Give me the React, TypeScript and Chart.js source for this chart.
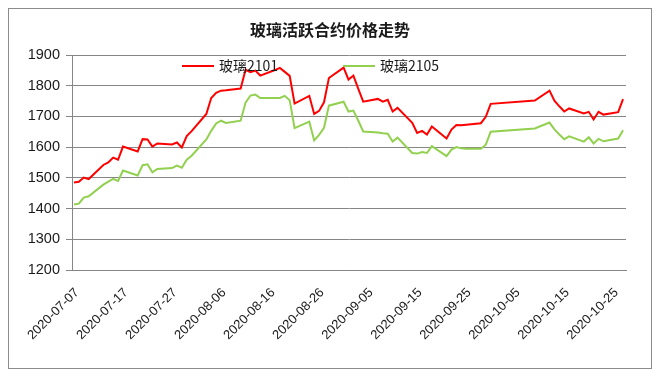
import React, { useEffect, useRef } from "react";
import { Chart, registerables } from "chart.js";

Chart.register(...registerables);

const TITLE = "玻璃活跃合约价格走势";
const SERIES_NAMES = ["玻璃2101", "玻璃2105"];
const SERIES_COLORS = ["#FF0000", "#92D050"];

const dates = [
  "2020-07-07", "2020-07-08", "2020-07-09", "2020-07-10",
  "2020-07-13", "2020-07-14", "2020-07-15", "2020-07-16", "2020-07-17",
  "2020-07-20", "2020-07-21", "2020-07-22", "2020-07-23", "2020-07-24",
  "2020-07-27", "2020-07-28", "2020-07-29", "2020-07-30", "2020-07-31",
  "2020-08-03", "2020-08-04", "2020-08-05", "2020-08-06", "2020-08-07",
  "2020-08-10", "2020-08-11", "2020-08-12", "2020-08-13", "2020-08-14",
  "2020-08-17", "2020-08-18", "2020-08-19", "2020-08-20", "2020-08-21",
  "2020-08-24", "2020-08-25", "2020-08-26", "2020-08-27", "2020-08-28",
  "2020-08-31", "2020-09-01", "2020-09-02", "2020-09-03", "2020-09-04",
  "2020-09-07", "2020-09-08", "2020-09-09", "2020-09-10", "2020-09-11",
  "2020-09-14", "2020-09-15", "2020-09-16", "2020-09-17", "2020-09-18",
  "2020-09-21", "2020-09-22", "2020-09-23", "2020-09-24", "2020-09-25",
  "2020-09-28", "2020-09-29", "2020-09-30",
  "2020-10-09",
  "2020-10-12", "2020-10-13", "2020-10-14", "2020-10-15", "2020-10-16",
  "2020-10-19", "2020-10-20", "2020-10-21", "2020-10-22", "2020-10-23",
  "2020-10-26", "2020-10-27",
];

const glass2101 = [
  1485, 1487, 1501, 1496,
  1542, 1550, 1566, 1559, 1602,
  1586, 1626, 1625, 1602, 1612,
  1609, 1615, 1599, 1636, 1652,
  1708, 1760, 1777, 1784, 1785,
  1791, 1852, 1844, 1849, 1833,
  1851, 1858, 1845, 1832, 1742,
  1767, 1708, 1718, 1746, 1825,
  1859, 1820, 1833, 1790, 1748,
  1757, 1748, 1754, 1716, 1728,
  1679, 1646, 1653, 1641, 1667,
  1628, 1657, 1672, 1671, 1673,
  1678, 1699, 1741,
  1752,
  1784, 1751, 1733, 1716, 1726,
  1710, 1715, 1690, 1715, 1706,
  1714, 1756,
];

const glass2105 = [
  1413, 1416, 1436, 1440,
  1478, 1488, 1497, 1490, 1524,
  1508, 1541, 1544, 1518, 1529,
  1532, 1540, 1533, 1559, 1572,
  1625, 1653, 1677, 1686, 1679,
  1686, 1745, 1768, 1771, 1760,
  1760, 1760, 1767, 1753, 1662,
  1683, 1622, 1640, 1663, 1735,
  1748, 1716, 1719, 1686, 1651,
  1648, 1645, 1644, 1618, 1631,
  1581, 1579, 1584, 1581, 1603,
  1571, 1592, 1600, 1596, 1595,
  1595, 1608, 1650,
  1661,
  1680, 1658, 1641, 1626, 1635,
  1618, 1632, 1612, 1627, 1619,
  1628, 1655,
];

const X_TICK_DAYS = [0, 10, 20, 30, 40, 50, 60, 70, 80, 90, 100, 110];
const Y_MIN = 1200;
const Y_MAX = 1900;
const Y_STEP = 100;

const DAY_MS = 86400000;
const baseMs = Date.parse(dates[0] + "T00:00:00Z");
const dayIndex = (d: string) => Math.round((Date.parse(d + "T00:00:00Z") - baseMs) / DAY_MS);
const dayLabel = (v: number) => new Date(baseMs + v * DAY_MS).toISOString().slice(0, 10);
const lastDay = dayIndex(dates[dates.length - 1]);

const GRID = "#868686";
const TEXT = "#1a1a1a";

const overlayPlugin = {
  id: "overlay",
  afterDraw(chart: any) {
    const { ctx, chartArea, width } = chart;
    ctx.save();
    ctx.fillStyle = TEXT;
    ctx.font = 'bold 16px "Noto Sans CJK SC", sans-serif';
    ctx.textAlign = "center";
    ctx.textBaseline = "middle";
    ctx.fillText(TITLE, width / 2, 21);

    const y = chartArea.top + 11;
    const offsets = [110, 271];
    ctx.font = '14px "Noto Sans CJK SC", sans-serif';
    ctx.textAlign = "left";
    chart.data.datasets.forEach((ds: any, i: number) => {
      const x0 = chartArea.left + offsets[i];
      ctx.strokeStyle = ds.borderColor;
      ctx.lineWidth = 2;
      ctx.beginPath();
      ctx.moveTo(x0, y);
      ctx.lineTo(x0 + 32, y);
      ctx.stroke();
      ctx.fillStyle = TEXT;
      ctx.fillText(ds.label, x0 + 37, y);
    });
    ctx.restore();
  },
};

export default function App() {
  const ref = useRef<HTMLCanvasElement>(null);

  useEffect(() => {
    if (!ref.current) return;
    const series = [glass2101, glass2105];
    const chart = new Chart(ref.current, {
      type: "line",
      data: {
        datasets: series.map((vals, i) => ({
          label: SERIES_NAMES[i],
          data: dates.map((d, j) => ({ x: dayIndex(d), y: vals[j] })),
          borderColor: SERIES_COLORS[i],
          backgroundColor: SERIES_COLORS[i],
          borderWidth: 2,
          pointRadius: 0,
          tension: 0,
        })),
      },
      options: {
        responsive: false,
        animation: false,
        devicePixelRatio: 1,
        layout: { padding: { top: 46, right: 25, left: 0, bottom: 0 } },
        plugins: {
          legend: { display: false },
          title: { display: false },
          tooltip: { enabled: false },
        },
        scales: {
          x: {
            type: "linear",
            min: -0.4,
            max: lastDay + 0.6,
            afterBuildTicks: (scale: any) => {
              scale.ticks = X_TICK_DAYS.map((v) => ({ value: v }));
            },
            afterFit: (scale: any) => {
              scale.height = 98;
            },
            grid: { display: false },
            border: { display: true, color: GRID, width: 1 },
            ticks: {
              autoSkip: false,
              minRotation: 45,
              maxRotation: 45,
              padding: 7,
              labelOffset: 3,
              color: TEXT,
              font: { family: '"Liberation Sans", Arial, sans-serif', size: 13 },
              callback: (v: any) => dayLabel(Number(v)),
            },
          },
          y: {
            min: Y_MIN,
            max: Y_MAX,
            afterFit: (scale: any) => {
              scale.width = 63;
            },
            grid: { color: GRID, lineWidth: 1, tickLength: 6, drawTicks: true },
            border: { display: true, color: GRID, width: 1 },
            ticks: {
              stepSize: Y_STEP,
              color: TEXT,
              padding: 6,
              font: { family: '"Liberation Sans", Arial, sans-serif', size: 14.5 },
              callback: (v: any) => String(v),
            },
          },
        },
      },
      plugins: [overlayPlugin],
    });
    return () => chart.destroy();
  }, []);

  return (
    <div
      style={{
        width: 644,
        height: 361,
        boxSizing: "border-box",
        border: "1px solid #8c8c8c",
        background: "#fff",
      }}
    >
      <canvas ref={ref} width={642} height={359} style={{ display: "block", width: 642, height: 359 }} />
    </div>
  );
}
